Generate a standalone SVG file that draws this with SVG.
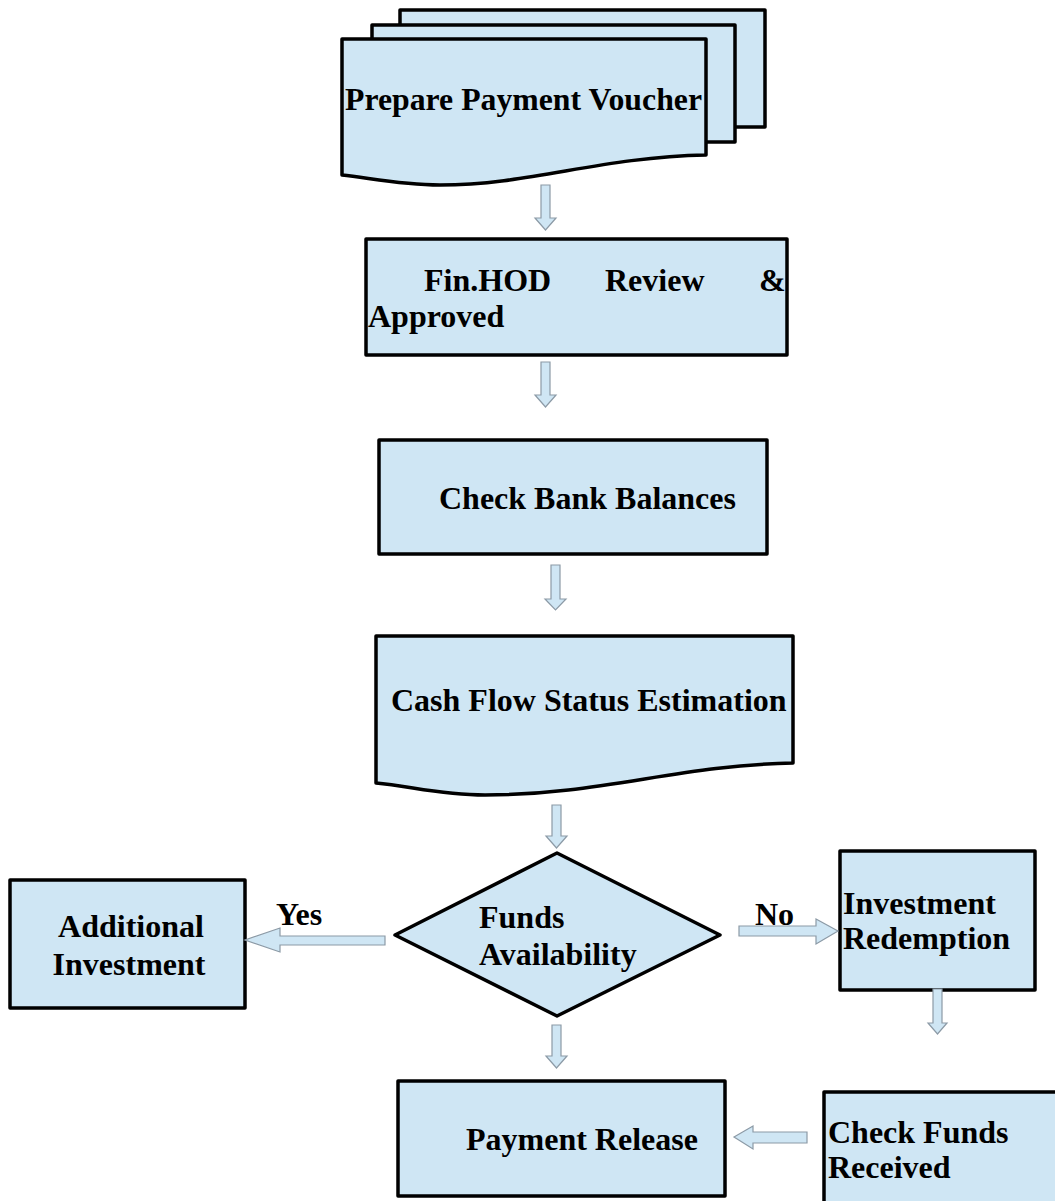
<svg xmlns="http://www.w3.org/2000/svg" width="1055" height="1201" viewBox="0 0 1055 1201">
<style>
.box{fill:#cfe6f4;stroke:#000;stroke-width:3.5;stroke-linejoin:round}
.arr{fill:#cfe6f4;stroke:#8c9aa6;stroke-width:1.2}
text{font-family:"Liberation Serif","Times New Roman",serif;font-weight:bold;font-size:32px;fill:#000}
</style>
<rect width="1055" height="1201" fill="#fff"/>
<g id="prepare">
<rect class="box" x="400" y="10" width="365" height="117"/>
<rect class="box" x="372" y="25" width="363" height="117"/>
<path class="box" d="M342,39 H706 V155 C600,157 530,185 440,185 C400,185 370,178 342,175 Z"/>
<text x="345" y="110" textLength="357" lengthAdjust="spacingAndGlyphs">Prepare Payment Voucher</text>
</g>
<g id="review">
<rect class="box" x="366" y="239" width="421" height="116"/>
<text y="291"><tspan x="424">Fin.HOD</tspan><tspan x="605">Review</tspan><tspan x="759">&amp;</tspan></text>
<text x="368" y="327">Approved</text>
</g>
<g id="check-bank">
<rect class="box" x="379" y="440" width="388" height="114"/>
<text x="439" y="509">Check Bank Balances</text>
</g>
<g id="cashflow">
<path class="box" d="M376,636 H793 V763 C680,765 600,795 485,795 C440,795 410,786 376,783 Z"/>
<text x="391" y="711">Cash Flow Status Estimation</text>
</g>
<g id="funds">
<polygon class="box" points="557,853 720,935 557,1016 395,935"/>
<text x="479" y="928">Funds</text>
<text x="479" y="965">Availability</text>
</g>
<g id="additional">
<rect class="box" x="10" y="880" width="235" height="128"/>
<text x="131" y="937" text-anchor="middle">Additional</text>
<text x="129" y="975" text-anchor="middle">Investment</text>
</g>
<g id="redemption">
<rect class="box" x="840" y="851" width="195" height="139"/>
<text x="843" y="914">Investment</text>
<text x="843" y="949">Redemption</text>
</g>
<g id="check-funds">
<rect class="box" x="824" y="1092" width="240" height="130"/>
<text x="828" y="1143">Check Funds</text>
<text x="828" y="1178">Received</text>
</g>
<g id="release">
<rect class="box" x="398" y="1081" width="327" height="115"/>
<text x="466" y="1150">Payment Release</text>
</g>
<g id="connectors">
<polygon class="arr" points="541,185 550,185 550,218 556,218 545.5,230 535,218 541,218"/>
<polygon class="arr" points="541,362 550,362 550,395 556,395 545.5,407 535,395 541,395"/>
<polygon class="arr" points="551,565 560,565 560,599 566,599 555.5,610 545,599 551,599"/>
<polygon class="arr" points="552,805 561,805 561,836 567,836 556.5,848 546,836 552,836"/>
<polygon class="arr" points="552,1025 561,1025 561,1056 567,1056 556.5,1068 546,1056 552,1056"/>
<polygon class="arr" points="933,989 942,989 942,1023 947,1023 937.5,1034 928,1023 933,1023"/>
<polygon class="arr" points="385,936 385,945 280,945 280,952 245,940 280,928 280,936"/>
<polygon class="arr" points="739,926 816,926 816,919 838,931 816,944 816,936 739,936"/>
<polygon class="arr" points="807,1132 807,1143 753,1143 753,1149 734,1137 753,1126 753,1132"/>
<text x="276" y="925" font-size="27">Yes</text>
<text x="755" y="925" font-size="27">No</text>
</g>
</svg>
